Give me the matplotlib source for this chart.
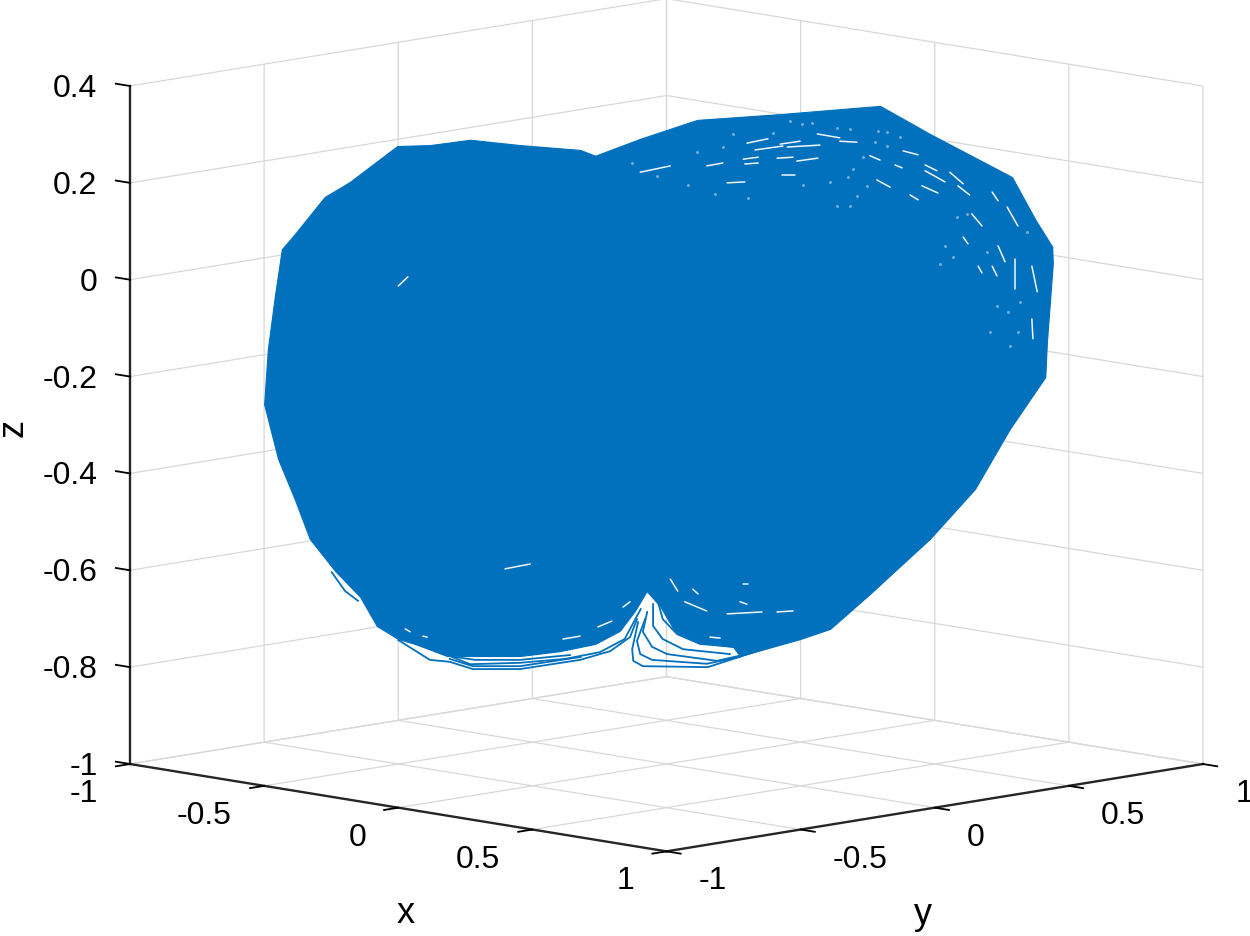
import matplotlib
matplotlib.use("Agg")
import matplotlib.pyplot as plt
import numpy as np
from matplotlib.text import Text
from matplotlib.transforms import Affine2D
from mpl_toolkits.mplot3d import proj3d
from mpl_toolkits.mplot3d.art3d import Poly3DCollection

plt.rcParams['font.family'] = ['Liberation Sans', 'DejaVu Sans']
plt.rcParams['axes.unicode_minus'] = False

BLUE = '#0170BD'

x_ticks = [-1, -0.5, 0, 0.5, 1]
x_labels = ['-1', '-0.5', '0', '0.5', '1']
z_ticks = [-1, -0.8, -0.6, -0.4, -0.2, 0, 0.2, 0.4]
z_labels = ['-1', '-0.8', '-0.6', '-0.4', '-0.2', '0', '0.2', '0.4']

# Silhouette of the trajectory cloud (x = y along the view plane)
hull_x = [-0.717, -0.696, -0.637, -0.590, -0.558, -0.502, -0.441, -0.366, -0.273, -0.161, -0.133,
          -0.049, 0.057, 0.212, 0.398, 0.491, 0.644, 0.687, 0.719, 0.720, 0.709, 0.706, 0.640,
          0.575, 0.491, 0.379, 0.305, 0.249, 0.137, 0.124, 0.062, 0.016, -0.012, -0.037, -0.059,
          -0.087, -0.133, -0.199, -0.273, -0.348, -0.409, -0.469, -0.500, -0.540, -0.571, -0.618,
          -0.665, -0.693, -0.724, -0.750, -0.743, -0.730]
hull_z = [0.063, 0.090, 0.171, 0.202, 0.229, 0.276, 0.278, 0.289, 0.278, 0.268, 0.256,
          0.291, 0.330, 0.342, 0.359, 0.301, 0.212, 0.125, 0.068, 0.033, -0.129, -0.201, -0.308,
          -0.432, -0.535, -0.649, -0.721, -0.742, -0.777, -0.758, -0.750, -0.727, -0.674, -0.643, -0.684,
          -0.725, -0.752, -0.767, -0.777, -0.777, -0.777, -0.752, -0.742, -0.715, -0.655, -0.601,
          -0.535, -0.453, -0.370, -0.257, -0.143, -0.034]

# Individually visible trajectory loops at the lower edge
loops = [
    ([-0.053, -0.064, -0.062, -0.044, 0.077, 0.249], [-0.707, -0.763, -0.787, -0.798, -0.800, -0.738]),
    ([-0.040, -0.055, -0.049, -0.027, 0.075, 0.137], [-0.701, -0.746, -0.773, -0.785, -0.793, -0.779]),
    ([-0.036, -0.044, -0.027, 0.001, 0.094, 0.150], [-0.686, -0.727, -0.758, -0.773, -0.787, -0.773]),
    ([-0.025, -0.025, -0.007, 0.031, 0.118], [-0.670, -0.715, -0.742, -0.763, -0.773]),
    ([-0.016, -0.007, 0.020, 0.062, 0.124, 0.199], [-0.665, -0.701, -0.732, -0.752, -0.758, -0.742]),
    ([-0.055, -0.068, -0.105, -0.161, -0.273, -0.361, -0.404, -0.441, -0.500],
     [-0.701, -0.738, -0.767, -0.785, -0.804, -0.804, -0.789, -0.785, -0.744]),
    ([-0.048, -0.078, -0.124, -0.189, -0.273, -0.366, -0.413],
     [-0.680, -0.742, -0.769, -0.783, -0.791, -0.794, -0.773]),
    ([-0.160, -0.273, -0.361, -0.404], [-0.779, -0.798, -0.798, -0.783]),
    ([-0.180, -0.273, -0.357, -0.394], [-0.775, -0.785, -0.785, -0.779]),
    ([-0.624, -0.599, -0.575], [-0.604, -0.643, -0.663]),
]

# Small uncovered slivers between trajectory loops
gap_x0 = [-0.049, 0.075, 0.150, 0.165, 0.212, 0.225, 0.281, 0.323, 0.143, 0.146, 0.206, 0.243, 0.113, 0.215,
          0.379, 0.441, 0.482, 0.482, 0.528, 0.543, 0.476, 0.454, 0.426, 0.392, 0.607, 0.635, 0.618, 0.650,
          0.681, 0.681, 0.569, 0.553, 0.581, 0.607, 0.034, 0.113, 0.007, 0.049, 0.143, -0.193, -0.128, -0.081,
          0.081, 0.137, 0.206, -0.301, -0.500, -0.487, -0.454]
gap_z0 = [0.222, 0.235, 0.282, 0.268, 0.280, 0.274, 0.301, 0.286, 0.249, 0.239, 0.251, 0.245, 0.200, 0.216,
          0.256, 0.266, 0.237, 0.225, 0.222, 0.194, 0.194, 0.175, 0.237, 0.206, 0.181, 0.150, 0.070, 0.043,
          0.028, -0.081, 0.136, 0.088, 0.028, 0.028, -0.665, -0.690, -0.618, -0.639, -0.628, -0.742, -0.717, -0.676,
          -0.738, -0.665, -0.686, -0.597, -0.013, -0.721, -0.736]
gap_x1 = [0.007, 0.105, 0.189, 0.217, 0.249, 0.286, 0.323, 0.355, 0.171, 0.171, 0.236, 0.282, 0.146, 0.240,
          0.398, 0.469, 0.504, 0.519, 0.553, 0.565, 0.506, 0.469, 0.439, 0.417, 0.618, 0.655, 0.631, 0.650,
          0.691, 0.683, 0.588, 0.562, 0.588, 0.616, 0.075, 0.178, 0.021, 0.059, 0.152, -0.161, -0.102, -0.068,
          0.100, 0.150, 0.236, -0.254, -0.482, -0.478, -0.446]
gap_z1 = [0.235, 0.241, 0.291, 0.276, 0.286, 0.278, 0.293, 0.284, 0.253, 0.241, 0.253, 0.251, 0.202, 0.216,
          0.247, 0.258, 0.225, 0.202, 0.198, 0.175, 0.179, 0.165, 0.231, 0.191, 0.163, 0.111, 0.037, -0.019,
          -0.025, -0.122, 0.111, 0.074, 0.014, 0.008, -0.684, -0.686, -0.643, -0.649, -0.628, -0.736, -0.705, -0.665,
          -0.740, -0.670, -0.684, -0.587, 0.006, -0.727, -0.738]

# Fainter pin-holes in the upper right lobe
speck_x = [0.124, 0.199, 0.230, 0.253, 0.271, 0.318, 0.342, 0.394, 0.411, 0.435, 0.389, 0.411, 0.366, 0.348,
           0.338, 0.374, 0.355, 0.342, 0.040, 0.090, 0.152, 0.254, 0.305, 0.318, -0.018, -0.064, 0.057, 0.105,
           0.519, 0.510, 0.534, 0.603, 0.616, 0.637, 0.655, 0.640, 0.659, 0.560, 0.541, 0.672, 0.597]
speck_z = [0.301, 0.303, 0.328, 0.322, 0.324, 0.313, 0.311, 0.307, 0.305, 0.295, 0.284, 0.276, 0.253, 0.229,
           0.212, 0.194, 0.173, 0.152, 0.196, 0.177, 0.169, 0.196, 0.202, 0.152, 0.214, 0.241, 0.264, 0.274,
           0.070, 0.033, 0.047, -0.108, -0.054, -0.067, -0.108, -0.137, -0.046, 0.136, 0.130, 0.099, 0.057]

fig = plt.figure(figsize=(12.5, 9.37), dpi=100, facecolor='white')
ax = fig.add_axes([0.1, 0.1, 0.8, 0.8], projection='3d', computed_zorder=False)
ax.set_proj_type('ortho')
ax.view_init(elev=9.37, azim=-45)
ax.set_xlim(-1, 1)
ax.set_ylim(-1, 1)
ax.set_zlim(-1, 0.4)
ax.patch.set_alpha(0)

hx = np.array(hull_x)
ax.add_collection3d(Poly3DCollection([list(zip(hx, hx, hull_z))], facecolors=BLUE, edgecolors=BLUE,
                                     linewidths=0.8))
for lx, lz in loops:
    ax.plot(lx, lx, lz, color=BLUE, lw=1.3)
for a, b, c, d in zip(gap_x0, gap_z0, gap_x1, gap_z1):
    ax.plot([a, c], [a, c], [b, d], color='#f2f7fb', lw=1.1, solid_capstyle='round')
ax.plot(speck_x, speck_x, speck_z, ls='', marker='o', ms=2.2, mfc='#6fabd9', mew=0)

ax.set_xticks(x_ticks, x_labels)
ax.set_yticks(x_ticks, x_labels)
ax.set_zticks(z_ticks, z_labels)
ax.set_xlabel('x', fontsize=26)
ax.set_ylabel('y', fontsize=26)
ax.set_zlabel('z', fontsize=26)
ax.zaxis.set_rotate_label(False)
ax.zaxis.label.set_rotation(90)
ax.tick_params(labelsize=23, pad=6)
ax.zaxis.set_ticks_position('lower')
ax.zaxis.set_label_position('lower')
ax.zaxis._get_tickdir = lambda pos: 0

for axis in (ax.xaxis, ax.yaxis, ax.zaxis):
    axis.set_pane_color((1, 1, 1, 0))
    axis.pane.set_edgecolor((1, 1, 1, 0))
    axis.line.set_color('#262626')
    axis.line.set_linewidth(1.7)
    axis._axinfo['grid'].update(color='#d8d8d8', linewidth=0.9)
    axis._axinfo['tick'].update(color='#262626', linewidth={True: 1.3, False: 0.8})
ax.xaxis._axinfo['tick'].update(inward_factor=0.33, outward_factor=0.0)
ax.yaxis._axinfo['tick'].update(inward_factor=0.33, outward_factor=0.0)
ax.zaxis._axinfo['tick'].update(inward_factor=0.0, outward_factor=0.33)

# Fit the projected box onto the frame of the reference
targets = dict(w=1073.0, h=678.0, left=130.0, bottom=937 - 765.0)
h = 0.6
S = 900.0
cx, cy = 666.0, 500.0
W_, H_ = fig.get_size_inches() * fig.dpi
for _ in range(4):
    ax.set_box_aspect((1, 1, h))
    ax.set_position([(cx - S / 2) / W_, (cy - S / 2) / H_, S / W_, S / H_])
    fig.canvas.draw()
    M = ax.get_proj()
    def px(a, b, c):
        u, v, _z = proj3d.proj_transform(a, b, c, M)
        return ax.transData.transform((u, v))
    p0 = px(-1, -1, -1)
    p1 = px(1, 1, -1)
    p2 = px(-1, -1, 0.4)
    scale = targets['w'] / (p1[0] - p0[0])
    h *= (targets['h'] / (p2[1] - p0[1])) / scale
    S *= scale
    cx += (targets['left'] - p0[0])
    cy += (targets['bottom'] - p0[1])

ax.set_box_aspect((1, 1, h))
ax.set_position([(cx - S / 2) / W_, (cy - S / 2) / H_, S / W_, S / H_])
fig.canvas.draw()


def shift_tick_labels(axis, ha, dx, dy):
    """Keep the axis' own tick labels, nudged to the offsets MATLAB uses."""
    original = axis.get_major_ticks

    def patched(numticks=None):
        ticks = original(numticks)
        for t in ticks:
            t.label1.set_ha(ha)
            t.label1.set_va('center')
            t.label1.set_transform(ax.transData + Affine2D().translate(dx, dy))
        return ticks
    axis.get_major_ticks = patched


shift_tick_labels(ax.xaxis, 'right', -16, -6)
shift_tick_labels(ax.yaxis, 'left', 16, -6)
shift_tick_labels(ax.zaxis, 'right', 0, -2)


def pin_label(label, x_px, y_px):
    """Place an axis title at a fixed spot of the frame."""
    pos = tuple(ax.transData.inverted().transform((x_px, 937 - y_px)))
    label.set_position = lambda _xy: Text.set_position(label, pos)


pin_label(ax.xaxis.label, 406, 914)
pin_label(ax.yaxis.label, 923, 915)
pin_label(ax.zaxis.label, 13, 428)

fig.savefig('out.png', dpi=100)
